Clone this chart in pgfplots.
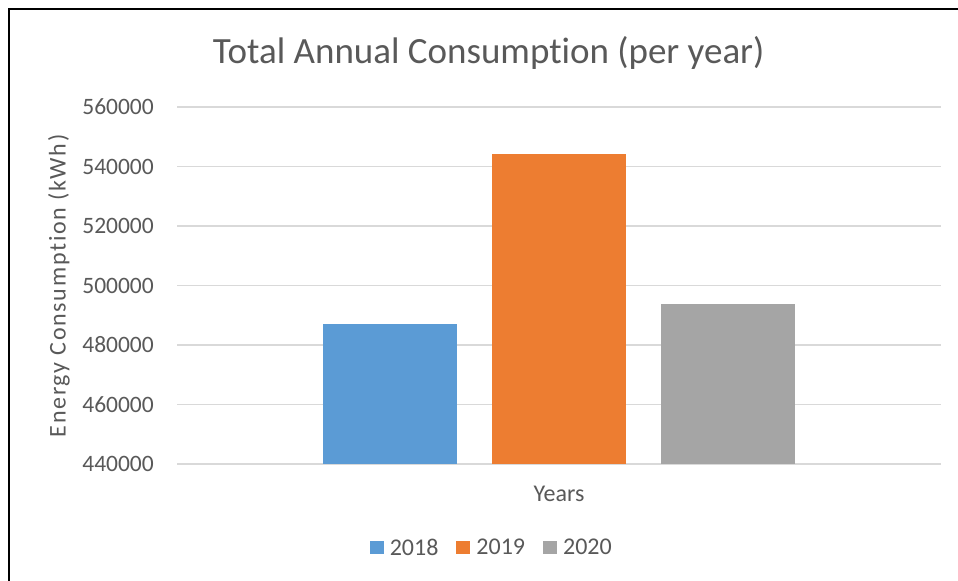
\documentclass[border=0pt]{standalone}
\usepackage{pgfplots}
\pgfplotsset{compat=1.18}
\usepackage{fontspec}
\setmainfont{Carlito}[Ligatures=NoCommon]
\newfontfamily\widefont{Carlito}[Ligatures=NoCommon, LetterSpace=7]
\definecolor{txt}{HTML}{595959}
\definecolor{gridc}{HTML}{D9D9D9}
\definecolor{c18}{HTML}{5B9BD5}
\definecolor{c19}{HTML}{ED7D31}
\definecolor{c20}{HTML}{A5A5A5}
\begin{document}
\begin{tikzpicture}
\useasboundingbox (0,0) rectangle (958bp,581bp);
\fill[white] (0,0) rectangle (958bp,581bp);
\draw[black, line width=2bp] (9bp,0) -- (9bp,572bp) -- (958bp,572bp);
\begin{axis}[
  at={(177bp,117bp)}, anchor=south west,
  scale only axis, width=764bp, height=357bp,
  xmin=-2.26, xmax=2.26,
  ymin=440000, ymax=560000,
  ytick={440000,460000,480000,500000,520000,540000,560000},
  xtick=\empty,
  axis line style={draw=none},
  major tick length=0pt,
  ymajorgrids, grid style={gridc, line width=1.5bp},
  scaled y ticks=false,
  /pgf/number format/.cd, fixed, 1000 sep={}, assume math mode=true,
  /pgfplots/.cd,
  yticklabel style={font=\fontsize{23.5bp}{26bp}\selectfont, text=txt, anchor=east, inner sep=0pt, xshift=-23bp},
  ybar, bar width=0.793, bar shift=0pt,
  title={Total Annual Consumption (per year)},
  title style={font=\fontsize{37bp}{40bp}\selectfont, text=txt, at={(axis description cs:0.408,1.135)}, anchor=center},
  ylabel={Energy Consumption (kWh)},
  ylabel style={font=\widefont\fontsize{24bp}{27bp}\selectfont, text=txt, at={(axis description cs:-0.1545,0.499)}, anchor=center, rotate=0},
  xlabel={Years},
  xlabel style={font=\fontsize{24bp}{27bp}\selectfont, text=txt, at={(axis description cs:0.5,-0.084)}, anchor=center},
  legend columns=3,
  legend style={draw=none, fill=none, at={(axis description cs:0.412,-0.235)}, anchor=center,
    font=\fontsize{24bp}{27bp}\selectfont, text=txt,
    /tikz/every even column/.append style={column sep=16bp}},
  legend image code/.code={\fill[#1] (0bp,-6.5bp) rectangle (14bp,6.5bp); \path (18bp,0);},
]
\addplot[fill=c18, draw=none] coordinates {(-1,487100)};
\addplot[fill=c19, draw=none] coordinates {(0,544300)};
\addplot[fill=c20, draw=none] coordinates {(1,493800)};
\legend{2018,2019,2020}
\end{axis}
\end{tikzpicture}
\end{document}
